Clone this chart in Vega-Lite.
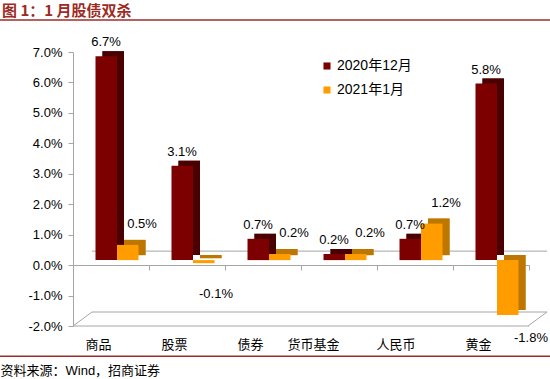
{
  "$schema": "https://vega.github.io/schema/vega-lite/v6.json",
  "width": 456,
  "height": 274,
  "autosize": {"type": "none"},
  "padding": {"left": 73, "top": 52, "right": 21, "bottom": 53},
  "background": "white",
  "config": {
    "view": {"stroke": null},
    "font": "Liberation Sans",
    "axis": {"labelOverlap": false},
    "axisY": {
      "labelOverlap": false,
      "labelFlush": false,
      "labelBound": false,
      "title": null,
      "grid": false,
      "format": ".1%",
      "tickCount": 10,
      "domainColor": "#a6a6a6",
      "tickColor": "#a6a6a6",
      "tickSize": 5,
      "labelPadding": 6,
      "labelFont": "Liberation Sans",
      "labelFontSize": 13,
      "labelColor": "#000000"
    },
    "locale": {"number": {"decimal": ".", "thousands": ",", "grouping": [3], "currency": ["$", ""], "minus": "-"}}
  },
  "title": {
    "text": "图 1：1 月股债双杀",
    "anchor": "start",
    "frame": "group",
    "dx": -71,
    "offset": 0,
    "font": "Noto Sans CJK SC",
    "fontSize": 15,
    "fontWeight": "bold",
    "color": "#9c2b23"
  },
  "data": {
    "values": [
      {"cat": "商品", "series": "2020年12月", "value": 0.067},
      {"cat": "商品", "series": "2021年1月", "value": 0.005},
      {"cat": "股票", "series": "2020年12月", "value": 0.031},
      {"cat": "股票", "series": "2021年1月", "value": -0.001},
      {"cat": "债券", "series": "2020年12月", "value": 0.007},
      {"cat": "债券", "series": "2021年1月", "value": 0.002},
      {"cat": "货币基金", "series": "2020年12月", "value": 0.002},
      {"cat": "货币基金", "series": "2021年1月", "value": 0.002},
      {"cat": "人民币", "series": "2020年12月", "value": 0.007},
      {"cat": "人民币", "series": "2021年1月", "value": 0.012},
      {"cat": "黄金", "series": "2020年12月", "value": 0.058},
      {"cat": "黄金", "series": "2021年1月", "value": -0.018}
    ]
  },
  "layer": [
    {
      "mark": {"type": "bar", "yOffset": -10},
      "encoding": {
        "x": {"field": "cat", "type": "nominal", "sort": ["商品", "股票", "债券", "货币基金", "人民币", "黄金"], "scale": {"paddingInner": 0, "paddingOuter": 0}},
        "xOffset": {"field": "series", "type": "nominal", "scale": {"domain": ["2020年12月", "2021年1月"], "range": [29.5, 72.5], "paddingInner": 0, "paddingOuter": 0}},
        "y": {
          "field": "value", "type": "quantitative",
          "scale": {"domain": [-0.02, 0.07], "nice": false},
          "axis": {"values": [-0.02, -0.01, 0, 0.01, 0.02, 0.03, 0.04, 0.05, 0.06, 0.07], "labelOverlap": false}
        },
        "color": {"field": "series", "type": "nominal", "scale": {"domain": ["2020年12月", "2021年1月"], "range": ["#4a0000", "#bd7600"]}, "legend": null}
      }
    },
    {
      "data": {"values": [{}]},
      "mark": {"type": "rule", "color": "#a6a6a6", "strokeWidth": 1, "yOffset": -14},
      "encoding": {"x": {"value": 19}, "x2": {"value": 474}, "y": {"datum": 0, "type": "quantitative"}}
    },
    {
      "data": {"values": [{}]},
      "mark": {"type": "rule", "color": "#a6a6a6", "strokeWidth": 1, "yOffset": -14},
      "encoding": {"x": {"value": 19}, "x2": {"value": 474}, "y": {"datum": -0.02, "type": "quantitative"}}
    },
    {
      "data": {"values": [{}]},
      "mark": {"type": "rule", "color": "#a6a6a6", "strokeWidth": 1},
      "encoding": {"x": {"value": 0}, "x2": {"value": 19}, "y": {"datum": -0.02, "type": "quantitative"}, "y2": {"datum": -0.0154}}
    },
    {
      "data": {"values": [{}]},
      "mark": {"type": "rule", "color": "#a6a6a6", "strokeWidth": 1},
      "encoding": {"x": {"value": 455}, "x2": {"value": 474}, "y": {"datum": -0.02, "type": "quantitative"}, "y2": {"datum": -0.0154}}
    },
    {
      "data": {"values": [{}]},
      "mark": {"type": "rule", "color": "#a6a6a6", "strokeWidth": 1},
      "encoding": {"x": {"value": 0}, "x2": {"value": 456}, "y": {"datum": -0.02, "type": "quantitative"}}
    },
    {
      "mark": {"type": "bar", "yOffset": -10},
      "encoding": {
        "x": {"field": "cat", "type": "nominal", "sort": ["商品", "股票", "债券", "货币基金", "人民币", "黄金"]},
        "xOffset": {"field": "series", "type": "nominal", "scale": {"domain": ["2020年12月", "2021年1月"], "range": [29.5, 72.5], "paddingInner": 0, "paddingOuter": 0}},
        "y": {"field": "value", "type": "quantitative"},
        "color": {"field": "series", "type": "nominal", "scale": {"domain": ["2020年12月", "2021年1月"], "range": ["#4a0000", "#bd7600"]}, "legend": null}
      }
    },
    {
      "mark": {"type": "bar", "yOffset": -5},
      "encoding": {
        "x": {
          "field": "cat", "type": "nominal",
          "sort": ["商品", "股票", "债券", "货币基金", "人民币", "黄金"],
          "axis": {
            "title": "资料来源：Wind，招商证券",
            "orient": "bottom",
            "offset": -61,
            "domainColor": "#a6a6a6",
            "tickColor": "#a6a6a6",
            "tickBand": "extent",
            "tickSize": 5,
            "labelPadding": 74,
            "labelAngle": 0,
            "labelFont": "Noto Sans CJK SC",
            "labelFontSize": 13,
            "labelColor": "#000000",
            "titleX": -73,
            "titleY": 109,
            "titleAlign": "left",
            "titleAnchor": null,
            "titleBaseline": "alphabetic",
            "titleFont": "Liberation Sans, Noto Sans CJK SC",
            "titleFontSize": 13,
            "titleFontWeight": "normal",
            "titleColor": "#000000"
          }
        },
        "xOffset": {"field": "series", "type": "nominal", "scale": {"domain": ["2020年12月", "2021年1月"], "range": [22.5, 65.5], "paddingInner": 0, "paddingOuter": 0}},
        "y": {"field": "value", "type": "quantitative"},
        "color": {
          "field": "series", "type": "nominal",
          "scale": {"domain": ["2020年12月", "2021年1月"], "range": ["#7d0000", "#ff9c00"]},
          "legend": {
            "title": null,
            "orient": "none",
            "legendX": 247,
            "legendY": 7,
            "direction": "vertical",
            "symbolType": "square",
            "symbolSize": 50,
            "symbolStrokeWidth": 0,
            "rowPadding": 10,
            "labelOffset": 3,
            "labelFont": "Liberation Sans, Noto Sans CJK SC",
            "labelFontSize": 14,
            "labelColor": "#000000"
          }
        }
      }
    },
    {
      "transform": [{"filter": "datum.series == '2020年12月'"}],
      "mark": {"type": "text", "baseline": "alphabetic", "dx": -5, "dy": -15, "font": "Liberation Sans", "fontSize": 13, "color": "#000000"},
      "encoding": {
        "x": {"field": "cat", "type": "nominal", "sort": ["商品", "股票", "债券", "货币基金", "人民币", "黄金"]},
        "y": {"field": "value", "type": "quantitative"},
        "text": {"field": "value", "type": "quantitative", "format": ".1%"}
      }
    },
    {
      "transform": [{"filter": "datum.series == '2021年1月' && datum.value > 0"}],
      "mark": {"type": "text", "baseline": "alphabetic", "dx": 31, "dy": -22, "font": "Liberation Sans", "fontSize": 13, "color": "#000000"},
      "encoding": {
        "x": {"field": "cat", "type": "nominal", "sort": ["商品", "股票", "债券", "货币基金", "人民币", "黄金"]},
        "y": {"field": "value", "type": "quantitative"},
        "text": {"field": "value", "type": "quantitative", "format": ".1%"}
      }
    },
    {
      "transform": [{"filter": "datum.series == '2021年1月' && datum.cat == '股票'"}],
      "mark": {"type": "text", "baseline": "alphabetic", "dx": 29, "dy": 30, "font": "Liberation Sans", "fontSize": 13, "color": "#000000"},
      "encoding": {
        "x": {"field": "cat", "type": "nominal", "sort": ["商品", "股票", "债券", "货币基金", "人民币", "黄金"]},
        "y": {"field": "value", "type": "quantitative"},
        "text": {"field": "value", "type": "quantitative", "format": ".1%"}
      }
    },
    {
      "transform": [{"filter": "datum.series == '2021年1月' && datum.cat == '黄金'"}],
      "mark": {"type": "text", "baseline": "alphabetic", "dx": 40, "dy": 22, "font": "Liberation Sans", "fontSize": 13, "color": "#000000"},
      "encoding": {
        "x": {"field": "cat", "type": "nominal", "sort": ["商品", "股票", "债券", "货币基金", "人民币", "黄金"]},
        "y": {"field": "value", "type": "quantitative"},
        "text": {"field": "value", "type": "quantitative", "format": ".1%"}
      }
    },
    {
      "data": {"values": [{}]},
      "mark": {"type": "rule", "color": "#9b2d2a", "strokeWidth": 1.5},
      "encoding": {"x": {"value": -73}, "x2": {"value": 477}, "y": {"datum": 0.0805, "type": "quantitative"}}
    },
    {
      "data": {"values": [{}]},
      "mark": {"type": "rule", "color": "#9b2d2a", "strokeWidth": 1.5},
      "encoding": {"x": {"value": -73}, "x2": {"value": 477}, "y": {"datum": -0.0299, "type": "quantitative"}}
    }
  ],
  "resolve": {"scale": {"color": "independent", "xOffset": "independent"}}
}
